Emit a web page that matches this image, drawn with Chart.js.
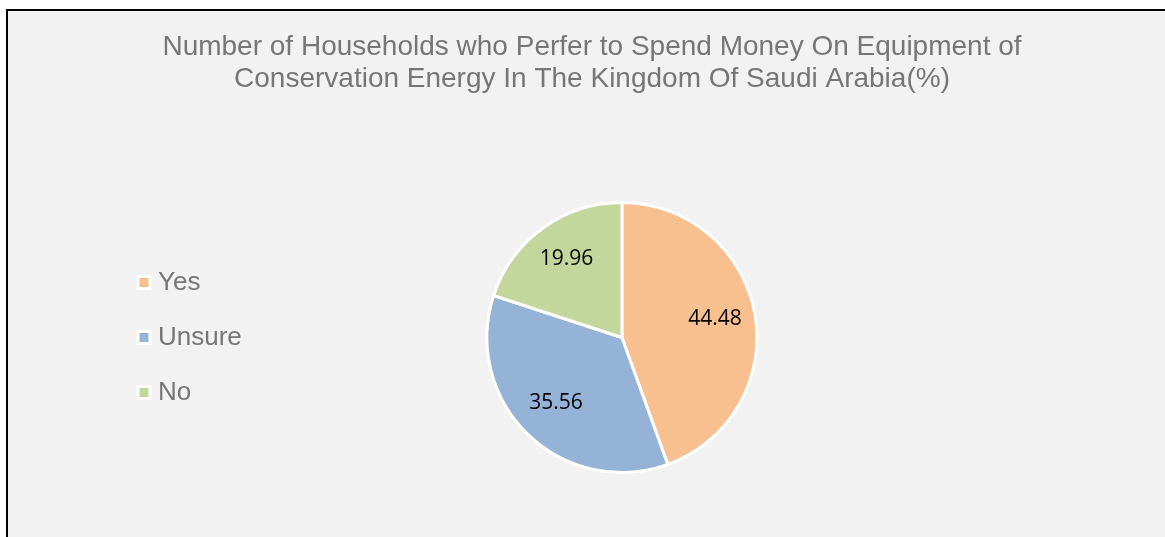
<!DOCTYPE html>
<html>
<head>
<meta charset="utf-8">
<script src="https://cdn.jsdelivr.net/npm/chart.js@4"></script>
<style>
  html, body { margin: 0; padding: 0; background: #ffffff; }
  #box {
    position: absolute; left: 6px; top: 9px;
    width: 1159px; height: 528px;
    border-left: 2px solid #000; border-top: 2px solid #000;
    background: #f2f2f2;
  }
  #chart { display: block; }
</style>
</head>
<body>
<div id="box"><canvas id="chart" width="1157" height="526"></canvas></div>
<script>
const categories = ['Yes', 'Unsure', 'No'];
const shares = [44.48, 35.56, 19.96];
const sliceColors = ['#f9c08f', '#95b3d7', '#c3d69b'];
const titleLines = [
  'Number of Households who Perfer to Spend Money On Equipment of',
  'Conservation Energy In The Kingdom Of Saudi Arabia(%)'
];

// values drawn inside each slice, a bit out from the centre
const sliceLabels = {
  id: 'sliceLabels',
  afterDatasetsDraw(chart) {
    const ctx = chart.ctx;
    const meta = chart.getDatasetMeta(0);
    ctx.save();
    ctx.font = '21px "Open Sans"';
    ctx.fillStyle = '#000';
    ctx.textAlign = 'center';
    ctx.textBaseline = 'middle';
    meta.data.forEach((arc, i) => {
      const p = arc.getProps(['x', 'y', 'startAngle', 'endAngle', 'outerRadius'], true);
      const mid = (p.startAngle + p.endAngle) / 2;
      const r = p.outerRadius * 0.7;
      ctx.fillText(shares[i].toFixed(2), p.x + Math.cos(mid) * r, p.y + Math.sin(mid) * r - 2);
    });
    ctx.restore();
  }
};

new Chart(document.getElementById('chart').getContext('2d'), {
  type: 'pie',
  data: {
    labels: categories,
    datasets: [{
      data: shares,
      backgroundColor: sliceColors,
      borderColor: '#ffffff',
      borderWidth: 3
    }]
  },
  options: {
    responsive: false,
    animation: false,
    layout: { padding: { top: 0, bottom: 63, left: 106, right: 95 } },
    plugins: {
      title: {
        display: true,
        text: titleLines,
        color: '#767676',
        font: { family: '"Liberation Sans", Arial', size: 28, weight: 'normal', lineHeight: 1.143 },
        padding: { top: 20, bottom: 106 }
      },
      // empty box on the right, only there to push the pie left of the title centre
      subtitle: {
        display: true,
        text: '',
        position: 'right',
        fullSize: false,
        font: { size: 10, lineHeight: 1 },
        padding: { top: 34, bottom: 34 }
      },
      legend: {
        position: 'left',
        fullSize: false,
        labels: {
          usePointStyle: true,
          pointStyle: 'rect',
          boxWidth: 2,
          boxHeight: 12,
          padding: 29,
          color: '#767676',
          font: { family: '"Liberation Sans", Arial', size: 26 }
        }
      },
      tooltip: { enabled: false }
    }
  },
  plugins: [sliceLabels]
});
</script>
</body>
</html>
